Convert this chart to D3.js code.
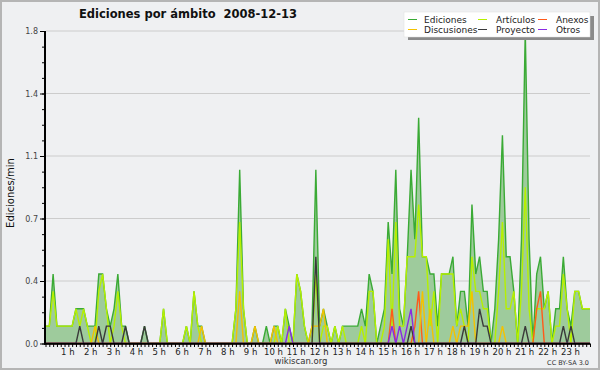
<!DOCTYPE html>
<html lang="es">
<head>
<meta charset="UTF-8">
<title>Ediciones por ámbito</title>
<script src="https://cdn.jsdelivr.net/npm/d3@7"></script>
<style>
  body { margin: 0; }
  svg { display: block; font-family: "DejaVu Sans", sans-serif; }
  .title { white-space: pre; }
</style>
</head>
<body>
<svg></svg>
<script>
// one value per 10 minutes, edits per minute
const ediciones = [
  .1,.1,.4,.1,.1,.1,.1,.1,.2,.2,.2,.1,
  .1,.1,.4,.4,.2,.1,.2,.4,.1,.1,0,0,
  0,0,.1,0,0,0,0,.2,0,0,0,0,
  0,.1,0,.3,.1,.1,0,0,0,0,0,0,
  0,0,.2,1.0,.2,0,0,.1,0,0,.1,0,
  .1,.1,0,.2,.1,0,.4,.3,.1,0,.1,1.0,
  .1,.2,.1,0,.1,0,.1,.1,.1,.1,.1,.2,
  .1,.4,.3,0,.1,.2,.7,.4,1.0,.2,.1,.5,
  1.0,.6,1.3,.5,.5,.4,.4,.1,.4,.4,.4,.5,
  .1,.3,.3,.1,.8,.4,.5,.3,.3,0,.2,.6,
  1.2,.5,.5,.3,0,.6,1.8,.6,0,.4,.5,.2,
  .3,0,.2,.2,.5,.2,.1,.3,.3,.2,.2,.2
];
const articulos = [
  .1,.1,.3,.1,.1,.1,.1,.1,.2,.1,.2,.1,
  0,0,.3,.4,.2,0,.1,.3,.1,0,0,0,
  0,0,0,0,0,0,0,.2,0,0,0,0,
  0,.1,0,.3,.1,0,0,0,0,0,0,0,
  0,0,.2,.7,.2,0,0,0,0,0,0,0,
  0,.1,0,.2,0,0,.4,.3,.1,0,0,.4,
  0,.1,.1,0,.1,0,.1,0,0,0,0,.1,
  0,.3,.3,0,0,.1,.6,.1,.7,.1,.1,.5,
  .5,.5,.8,.5,.5,.1,.3,0,.4,.4,.4,.4,
  .1,.2,.1,0,.5,.3,.3,.2,.2,0,0,.3,
  .7,.2,.2,.3,0,.3,.9,.2,0,.2,.2,.2,
  .3,0,.1,.1,.4,.2,0,.3,.3,.2,.2,.2
];
const anexos = [
  0,0,0,0,0,0,0,0,0,0,0,0,
  0,0,0,0,0,0,0,0,0,0,0,0,
  0,0,0,0,0,0,0,0,0,0,0,0,
  0,0,0,0,0,0,0,0,0,0,0,0,
  0,0,0,0,0,0,0,0,0,0,0,0,
  0,0,0,0,0,0,0,0,0,0,0,0,
  0,0,0,0,0,0,0,0,0,0,0,0,
  0,0,0,0,0,0,0,.2,0,0,0,0,
  0,.1,.3,0,0,0,0,0,0,0,0,0,
  0,0,0,0,0,0,0,0,0,0,0,0,
  0,0,0,0,0,0,0,0,0,.2,.3,0,
  0,0,0,0,0,0,0,0,0,0,0,0
];
const discusiones = [
  0,0,0,0,0,0,0,0,0,0,0,0,
  0,.1,0,0,0,0,0,0,0,0,0,0,
  0,0,0,0,0,0,0,0,0,0,0,0,
  0,0,0,0,0,.1,0,0,0,0,0,0,
  0,0,0,.3,0,0,0,.1,0,0,0,0,
  .1,0,0,0,0,0,0,0,0,0,.1,.1,
  .1,.2,0,0,0,0,0,0,0,0,0,0,
  0,0,0,0,0,0,0,0,0,0,0,0,
  0,0,0,.3,0,.2,0,0,0,0,0,.1,
  0,.1,.1,.1,.3,0,0,0,0,0,0,0,
  .1,0,0,0,0,0,0,0,0,0,0,0,
  0,0,0,0,0,0,0,0,0,0,0,0
];
const proyecto = [
  0,0,0,0,0,0,0,0,0,.1,0,0,
  0,0,.1,0,.1,.1,0,0,0,.1,0,0,
  0,0,.1,0,0,0,0,0,0,0,0,0,
  0,0,0,0,0,0,0,0,0,0,0,0,
  0,0,0,0,0,0,0,0,0,0,0,0,
  0,0,0,0,0,0,0,0,0,0,0,.5,
  0,0,0,0,0,0,0,0,0,0,0,0,
  0,0,0,0,0,0,0,0,0,0,0,0,
  .1,0,0,0,0,0,0,0,0,0,0,0,
  0,0,.1,0,0,0,.2,.1,.1,0,0,0,
  0,0,0,0,0,0,.1,0,0,0,0,0,
  0,0,0,0,.1,0,.1,0,0,0,0,0
];
const otros = [
  0,0,0,0,0,0,0,0,0,0,0,0,
  0,0,0,0,0,0,0,0,0,0,0,0,
  0,0,0,0,0,0,0,0,0,0,0,0,
  0,0,0,0,0,0,0,0,0,0,0,0,
  0,0,0,0,0,0,0,0,0,0,0,0,
  0,0,0,0,.1,0,0,0,0,0,0,0,
  0,0,0,0,0,0,0,0,0,0,0,0,
  0,0,0,0,0,0,0,.1,0,.1,0,.1,
  .2,0,0,0,0,0,0,0,0,0,0,0,
  0,0,0,0,0,0,0,0,0,0,0,0,
  0,0,0,0,0,0,0,0,0,0,0,0,
  0,0,0,0,0,0,0,0,0,0,0,0
];
const hourLabels = d3.range(1, 24).map(h => h + " h");
const yTicks = [0, 0.36, 0.72, 1.08, 1.44, 1.8];

const series = [
  { name: "Ediciones", values: ediciones, color: "#3aaa35" },
  { name: "Artículos", values: articulos, color: "#b6f000" },
  { name: "Anexos", values: anexos, color: "#ff5a1a" },
  { name: "Discusiones", values: discusiones, color: "#f4c200" },
  { name: "Proyecto", values: proyecto, color: "#3a3a3a" },
  { name: "Otros", values: otros, color: "#8a2be2" }
];

const W = 600, H = 370;
const svg = d3.select("svg").attr("width", W).attr("height", H);

svg.append("rect").attr("x", 1).attr("y", 1).attr("width", W - 2).attr("height", H - 2)
  .attr("fill", "#eff0f2").attr("stroke", "#b5b5b5").attr("stroke-width", 2);

const x = d3.scaleLinear().domain([0, 1430]).range([45.5, 590]);
const y = d3.scaleLinear().domain([0, 1.8]).range([343.5, 31]);

// grid
svg.append("g").selectAll("line").data(yTicks.slice(1)).join("line")
  .attr("x1", 46).attr("x2", 590)
  .attr("y1", d => y(d)).attr("y2", d => y(d))
  .attr("stroke", "#cccccc").attr("stroke-width", 1);

// Ediciones area
const area = d3.area().x((d, i) => x(i * 10)).y0(y(0)).y1(d => y(d));
svg.append("path").datum(ediciones).attr("d", area).attr("fill", "#9ecb9c");

const line = d3.line().x((d, i) => x(i * 10)).y(d => y(d));
series.forEach(s => {
  svg.append("path").datum(s.values).attr("d", line)
    .attr("fill", "none").attr("stroke", s.color)
    .attr("stroke-width", 1.4).attr("stroke-linejoin", "miter");
});

// axes
const minor10 = d3.range(0, 1440, 10);
const gx = svg.append("g").attr("transform", `translate(0,${y(0)})`);
gx.call(d3.axisBottom(x).tickValues(minor10).tickSize(3.5).tickFormat("").tickSizeOuter(0));
gx.select(".domain").remove();
gx.selectAll(".tick line").attr("stroke", "#000");

const gxl = svg.append("g").attr("transform", `translate(0,${y(0)})`);
gxl.call(d3.axisBottom(x).tickValues(d3.range(1, 24).map(h => h * 60))
  .tickSize(0).tickPadding(5).tickFormat((d, i) => hourLabels[i]));
gxl.select(".domain").remove();
gxl.selectAll(".tick text").attr("font-size", 8.5).attr("fill", "#222")
  .attr("font-family", "DejaVu Sans").attr("dx", -1);

const minorY = d3.range(0, 1.8001, 0.09);
const gym = svg.append("g").attr("transform", "translate(45,0)");
gym.call(d3.axisLeft(y).tickValues(minorY).tickSize(3).tickFormat("").tickSizeOuter(0));
gym.select(".domain").remove();

const gy = svg.append("g").attr("transform", "translate(45,0)");
gy.call(d3.axisLeft(y).tickValues(yTicks).tickSize(5).tickPadding(2)
  .tickFormat(d3.format(".1f")).tickSizeOuter(0));
gy.select(".domain").remove();
gy.selectAll(".tick text").attr("font-size", 8).attr("fill", "#444")
  .attr("font-family", "DejaVu Sans");

svg.append("line").attr("x1", 45).attr("x2", 45).attr("y1", 31).attr("y2", 344.5)
  .attr("stroke", "#000").attr("stroke-width", 2);
svg.append("line").attr("x1", 44).attr("x2", 590).attr("y1", 343.8).attr("y2", 343.8)
  .attr("stroke", "#000").attr("stroke-width", 2);

// texts
svg.append("text").attr("class", "title").attr("x", 188).attr("y", 17.5)
  .attr("text-anchor", "middle").attr("font-weight", "bold").attr("font-size", 11.5)
  .attr("fill", "#111").text("Ediciones por ámbito  2008-12-13");

svg.append("text").attr("transform", "translate(14,193) rotate(-90)")
  .attr("text-anchor", "middle").attr("font-size", 10).attr("fill", "#111")
  .text("Ediciones/min");

svg.append("text").attr("x", 301).attr("y", 364).attr("text-anchor", "middle")
  .attr("font-size", 8.5).attr("fill", "#333").text("wikiscan.org");
svg.append("text").attr("x", 589).attr("y", 364.5).attr("text-anchor", "end")
  .attr("font-size", 6.5).attr("fill", "#333").text("CC BY-SA 3.0");

// legend
const lg = svg.append("g");
lg.append("rect").attr("x", 408).attr("y", 16).attr("width", 186).attr("height", 24).attr("fill", "#8a8a8a");
lg.append("rect").attr("x", 404).attr("y", 12).attr("width", 186).attr("height", 25)
  .attr("fill", "#fff").attr("stroke", "#ddd").attr("stroke-width", 0.5);
const colX = [408, 478, 538];
const textX = [424, 496, 556];
series.forEach((s, k) => {
  const col = k % 3, row = Math.floor(k / 3);
  const cy = 19.5 + row * 10;
  lg.append("line").attr("x1", colX[col]).attr("x2", colX[col] + 9)
    .attr("y1", cy).attr("y2", cy).attr("stroke", s.color).attr("stroke-width", 1);
  lg.append("text").attr("x", textX[col]).attr("y", cy + 3.3)
    .attr("font-size", 9).attr("fill", "#222").text(s.name);
});
</script>
</body>
</html>
